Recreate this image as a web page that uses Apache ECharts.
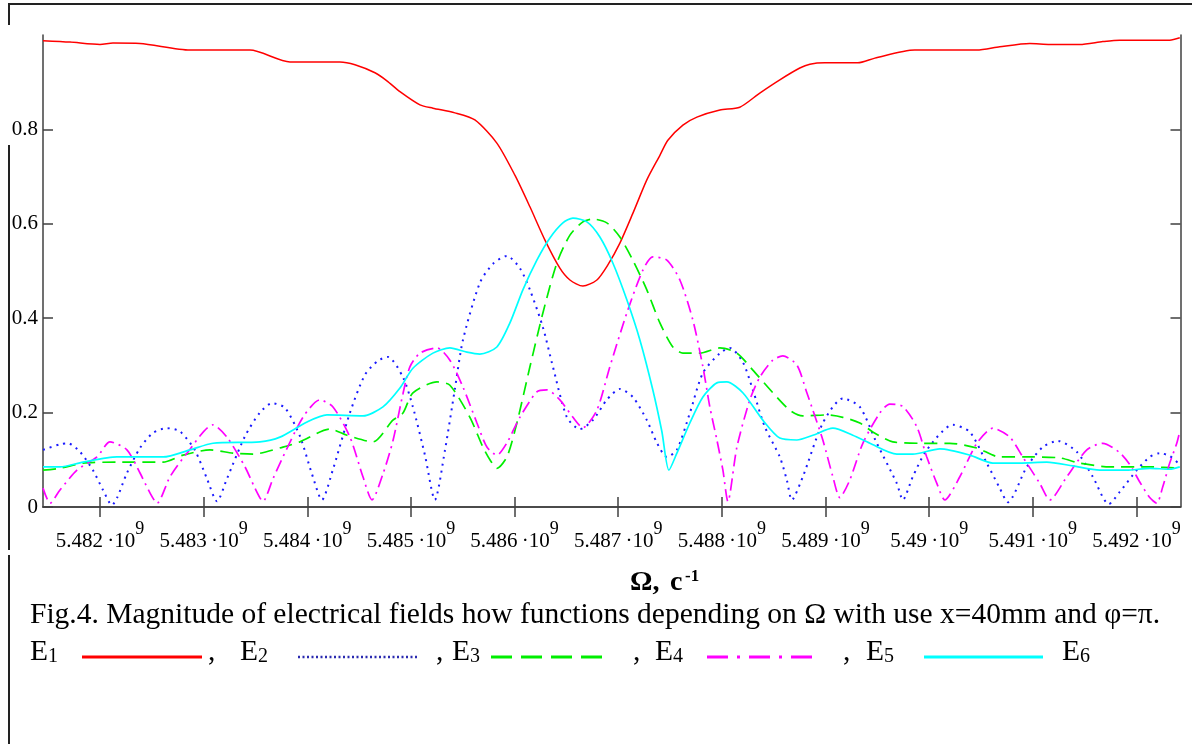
<!DOCTYPE html>
<html><head><meta charset="utf-8">
<script src="https://cdn.jsdelivr.net/npm/echarts@6/dist/echarts.min.js"></script>
<style>html,body{margin:0;padding:0;background:#fff}#c{width:1192px;height:744px}</style>
</head><body><div id="c"></div>
<script>
// Ω in units of 10^6 s^-1
const xTicks = [5482,5483,5484,5485,5486,5487,5488,5489,5490,5491,5492];
const yTicks = [0,0.2,0.4,0.6,0.8];

const E1 = [[5481.450,.988],[5481.711,.985],[5482.000,.980],[5482.125,.983],[5482.386,.982],[5482.868,.968],[5483.447,.968],[5483.833,.943],[5484.315,.943],[5484.460,.937],[5484.653,.920],[5484.768,.903],[5484.894,.880],[5485.087,.852],[5485.212,.845],[5485.424,.835],[5485.617,.820],[5485.829,.771],[5486.003,.703],[5486.148,.636],[5486.292,.566],[5486.437,.506],[5486.534,.481],[5486.659,.468],[5486.794,.481],[5486.900,.513],[5487.016,.559],[5487.141,.622],[5487.276,.693],[5487.402,.745],[5487.479,.777],[5487.624,.809],[5487.759,.826],[5487.981,.841],[5488.173,.847],[5488.366,.877],[5488.559,.905],[5488.752,.930],[5488.849,.938],[5488.993,.941],[5489.312,.941],[5489.476,.951],[5489.861,.968],[5490.460,.968],[5490.681,.975],[5490.971,.982],[5491.164,.980],[5491.453,.980],[5491.675,.986],[5491.839,.989],[5492.321,.989],[5492.418,.994]];

const E2 = [[5481.450,.121],[5481.614,.133],[5481.691,.135],[5481.807,.117],[5481.932,.078],[5482.029,.036],[5482.116,.004],[5482.164,.019],[5482.260,.072],[5482.386,.125],[5482.511,.157],[5482.646,.167],[5482.772,.160],[5482.916,.120],[5483.032,.060],[5483.129,.012],[5483.225,.060],[5483.399,.150],[5483.543,.200],[5483.659,.220],[5483.785,.210],[5483.929,.150],[5484.045,.070],[5484.141,.015],[5484.248,.080],[5484.412,.200],[5484.556,.280],[5484.682,.310],[5484.778,.318],[5484.923,.275],[5485.019,.212],[5485.135,.110],[5485.231,.015],[5485.328,.120],[5485.424,.250],[5485.502,.354],[5485.665,.475],[5485.791,.515],[5485.926,.532],[5486.051,.506],[5486.148,.460],[5486.273,.381],[5486.370,.297],[5486.505,.190],[5486.630,.165],[5486.755,.184],[5486.890,.227],[5487.016,.250],[5487.141,.233],[5487.276,.184],[5487.373,.136],[5487.469,.106],[5487.566,.121],[5487.691,.199],[5487.817,.284],[5487.981,.326],[5488.077,.337],[5488.202,.307],[5488.299,.248],[5488.414,.170],[5488.559,.106],[5488.627,.057],[5488.675,.015],[5488.781,.064],[5488.974,.178],[5489.167,.230],[5489.331,.212],[5489.495,.135],[5489.688,.050],[5489.746,.015],[5489.842,.064],[5489.977,.121],[5490.228,.174],[5490.392,.159],[5490.556,.093],[5490.681,.040],[5490.759,.010],[5490.942,.085],[5491.096,.127],[5491.241,.140],[5491.424,.117],[5491.579,.064],[5491.733,.006],[5491.839,.032],[5492.003,.078],[5492.128,.106],[5492.225,.114],[5492.321,.108],[5492.418,.090]];

const E3 = [[5481.450,.078],[5481.614,.082],[5481.836,.093],[5482.164,.095],[5482.608,.095],[5482.801,.110],[5483.061,.121],[5483.283,.114],[5483.476,.112],[5483.765,.127],[5483.929,.138],[5484.219,.165],[5484.383,.152],[5484.633,.138],[5484.826,.184],[5484.923,.199],[5485.019,.242],[5485.251,.265],[5485.376,.258],[5485.569,.190],[5485.694,.127],[5485.762,.100],[5485.829,.082],[5485.926,.106],[5486.022,.178],[5486.148,.297],[5486.273,.411],[5486.408,.517],[5486.534,.576],[5486.659,.604],[5486.755,.610],[5486.890,.602],[5487.016,.572],[5487.141,.523],[5487.276,.460],[5487.402,.390],[5487.527,.339],[5487.624,.326],[5487.788,.326],[5487.981,.337],[5488.145,.326],[5488.299,.290],[5488.492,.242],[5488.656,.205],[5488.781,.193],[5489.013,.195],[5489.167,.190],[5489.331,.178],[5489.456,.159],[5489.649,.138],[5489.939,.135],[5490.199,.135],[5490.460,.125],[5490.681,.106],[5491.000,.106],[5491.260,.104],[5491.453,.093],[5491.743,.085],[5492.128,.085],[5492.418,.082]];

const E4 = [[5481.450,.040],[5481.518,.008],[5481.614,.036],[5481.778,.078],[5481.971,.106],[5482.096,.138],[5482.260,.121],[5482.386,.072],[5482.482,.030],[5482.550,.008],[5482.675,.064],[5482.839,.114],[5483.090,.174],[5483.225,.148],[5483.399,.085],[5483.495,.040],[5483.572,.012],[5483.669,.060],[5483.765,.106],[5483.958,.190],[5484.122,.227],[5484.248,.212],[5484.412,.148],[5484.537,.064],[5484.624,.015],[5484.730,.070],[5484.826,.140],[5484.923,.240],[5484.990,.297],[5485.087,.326],[5485.251,.337],[5485.376,.311],[5485.502,.254],[5485.637,.178],[5485.733,.127],[5485.829,.110],[5485.926,.136],[5486.051,.190],[5486.215,.244],[5486.312,.248],[5486.437,.227],[5486.563,.190],[5486.659,.168],[5486.794,.205],[5486.919,.297],[5487.083,.411],[5487.238,.502],[5487.334,.530],[5487.469,.523],[5487.595,.481],[5487.720,.396],[5487.817,.297],[5487.884,.212],[5487.952,.142],[5488.010,.078],[5488.058,.012],[5488.145,.127],[5488.270,.227],[5488.366,.275],[5488.492,.311],[5488.588,.320],[5488.723,.301],[5488.820,.242],[5488.878,.205],[5488.974,.142],[5489.071,.064],[5489.138,.020],[5489.234,.057],[5489.360,.135],[5489.524,.199],[5489.620,.218],[5489.746,.213],[5489.881,.170],[5489.977,.106],[5490.074,.050],[5490.151,.015],[5490.296,.064],[5490.460,.135],[5490.614,.167],[5490.778,.148],[5490.903,.106],[5491.067,.050],[5491.164,.015],[5491.328,.064],[5491.521,.121],[5491.675,.135],[5491.839,.115],[5491.935,.090],[5492.032,.053],[5492.128,.020],[5492.196,.008],[5492.254,.043],[5492.321,.093],[5492.389,.135],[5492.418,.160]];

const E5 = [[5481.450,.085],[5481.614,.085],[5481.836,.095],[5482.164,.106],[5482.608,.106],[5482.868,.121],[5483.090,.135],[5483.543,.138],[5483.736,.148],[5483.997,.180],[5484.190,.195],[5484.537,.193],[5484.730,.212],[5484.894,.252],[5485.019,.294],[5485.212,.326],[5485.376,.337],[5485.540,.328],[5485.665,.324],[5485.829,.339],[5485.955,.390],[5486.080,.460],[5486.215,.523],[5486.341,.570],[5486.466,.602],[5486.563,.612],[5486.698,.604],[5486.823,.572],[5486.948,.517],[5487.083,.439],[5487.209,.354],[5487.334,.248],[5487.421,.160],[5487.489,.078],[5487.566,.114],[5487.691,.178],[5487.817,.233],[5487.952,.263],[5488.048,.265],[5488.202,.242],[5488.395,.184],[5488.559,.146],[5488.723,.142],[5488.878,.152],[5489.071,.167],[5489.263,.152],[5489.428,.135],[5489.688,.112],[5489.842,.112],[5490.103,.123],[5490.392,.110],[5490.614,.093],[5490.874,.093],[5491.135,.095],[5491.386,.087],[5491.646,.078],[5491.906,.078],[5492.128,.082],[5492.321,.080],[5492.418,.085]];

const seriesNames = ['E1','E2','E3','E4','E5'];
const SERIF = "'Liberation Serif', 'Times New Roman', serif";

const chart = echarts.init(document.getElementById('c'), null, {renderer:'canvas'});

function xLab(v){
  const s = (v/1000).toFixed(3).replace(/0+$/,'');
  return '{a|' + s + '\u2009·10}{s|9}';
}
const axisLineStyle = {color:'#404040', width:1.5};

const lineSer = (name, data, color, type, width) => ({
  name, type:'line', data, showSymbol:false, smooth:0.25, xAxisIndex:0, yAxisIndex:0,
  lineStyle:{color, width, type, cap:'butt'}, emphasis:{disabled:true}, z:3
});

function legendText(x, n){
  return {type:'text', x, y:652, style:{text:'{e|E}{s|'+n+'}', rich:{
    e:{fontFamily:SERIF, fontSize:29.5, fill:'#000', verticalAlign:'bottom', lineHeight:30},
    s:{fontFamily:SERIF, fontSize:20, fill:'#000', verticalAlign:'bottom', lineHeight:24}
  }, verticalAlign:'middle'}};
}
function plainText(x, y, text, size, weight){
  return {type:'text', x, y, style:{text, fontFamily:SERIF, fontSize:size, fontWeight:weight||'normal', fill:'#000', verticalAlign:'middle'}};
}
function seg(x1,y1,x2,y2,stroke,w,dash){
  return {type:'line', shape:{x1,y1,x2,y2}, style:{stroke, lineWidth:w, lineDash:dash||null}};
}

const option = {
  animation:false,
  backgroundColor:'#fff',
  grid:{left:43, top:35, width:1137.5, height:472, containLabel:false},
  xAxis:[{
    type:'value', position:'bottom', min:5481.45, max:5492.425,
    axisLine:{show:true, lineStyle:axisLineStyle},
    axisTick:{show:true, inside:true, length:10, customValues:xTicks, lineStyle:axisLineStyle},
    axisLabel:{show:true, customValues:xTicks, margin:13, formatter:xLab, color:'#000',
      rich:{a:{fontFamily:SERIF, fontSize:21, color:'#000', lineHeight:32, verticalAlign:'bottom'},
            s:{fontFamily:SERIF, fontSize:18, color:'#000', lineHeight:18, verticalAlign:'top'}}},
    splitLine:{show:false}
  },{
    type:'value', position:'top', min:5481.45, max:5492.425,
    axisLine:{show:true, lineStyle:axisLineStyle},
    axisTick:{show:true, inside:true, length:10, customValues:xTicks, lineStyle:axisLineStyle},
    axisLabel:{show:false}, splitLine:{show:false}
  }],
  yAxis:[{
    type:'value', position:'left', min:0, max:1,
    axisLine:{show:true, lineStyle:axisLineStyle},
    axisTick:{show:true, inside:true, length:10, customValues:yTicks, lineStyle:axisLineStyle},
    axisLabel:{show:true, customValues:yTicks, margin:5, color:'#000', fontFamily:SERIF, fontSize:21,
      formatter:v => String(+v.toFixed(1))},
    splitLine:{show:false}
  },{
    type:'value', position:'right', min:0, max:1,
    axisLine:{show:true, lineStyle:axisLineStyle},
    axisTick:{show:true, inside:true, length:10, customValues:yTicks, lineStyle:axisLineStyle},
    axisLabel:{show:false}, splitLine:{show:false}
  }],
  series:[
    lineSer(seriesNames[0], E1, '#ff0000', 'solid', 1.5),
    lineSer(seriesNames[1], E2, '#1a1aff', [2,5], 2),
    lineSer(seriesNames[2], E3, '#00ee00', [13,7], 1.7),
    lineSer(seriesNames[3], E4, '#ff00ff', [12,5,2,5], 1.7),
    lineSer(seriesNames[4], E5, '#00ffff', 'solid', 1.7)
  ],
  graphic:[
    seg(9,4,1192,4,'#222',2),
    seg(9,3,9,25,'#222',2),
    seg(9,145,9,550,'#222',2),
    seg(9,555,9,744,'#222',2),
    plainText(630, 583, 'Ω,', 28, 'bold'),
    plainText(670, 583, 'c', 28, 'bold'),
    plainText(685, 577, '-1', 17, 'bold'),
    plainText(30, 615, 'Fig.4. Magnitude of electrical fields how functions depending on Ω with use x=40mm and φ=π.', 29.5),
    legendText(30, '1'),
    seg(82,657,202,657,'#ff0000',3),
    plainText(208, 652, ',', 29.5),
    legendText(240, '2'),
    seg(298,657,417,657,'#2a2ab0',2.5,[2,2.5]),
    plainText(436, 652, ',', 29.5),
    legendText(452, '3'),
    seg(491,657,609,657,'#00ee00',3,[21,9]),
    plainText(633, 652, ',', 29.5),
    legendText(655, '4'),
    seg(707,657,819,657,'#ff00ff',3,[21,9,3,9]),
    plainText(843, 652, ',', 29.5),
    legendText(866, '5'),
    seg(924,657,1043,657,'#00ffff',3),
    legendText(1062, '6')
  ]
};
chart.setOption(option);
</script>
</body></html>
